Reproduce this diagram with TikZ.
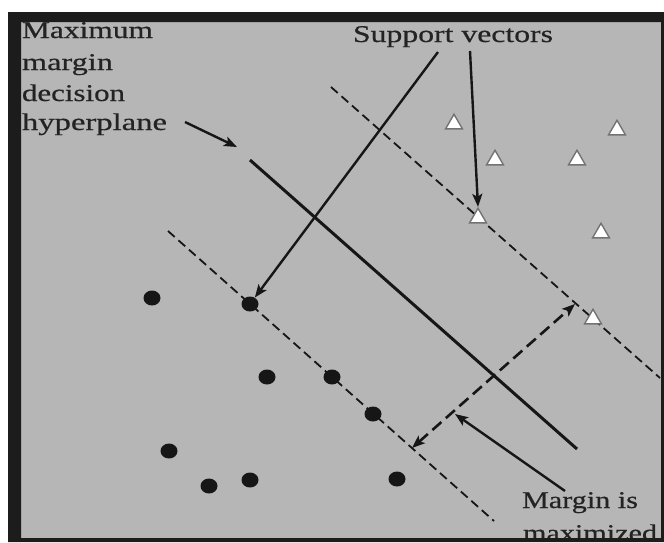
\documentclass[tikz,border=0pt]{standalone}
\usepackage{graphicx}
\usepackage{fontspec}
\newfontfamily\labelfont{Liberation Serif}[FakeBold=0.5]
\usetikzlibrary{shapes.geometric,arrows.meta}
\definecolor{bgray}{RGB}{182,182,182}
\definecolor{framec}{RGB}{28,28,28}
\definecolor{triedge}{RGB}{115,115,115}
\definecolor{ink}{RGB}{22,22,22}
\definecolor{textc}{RGB}{35,35,35}
\tikzset{mytip/.tip={Stealth[length=13pt,width=10pt,inset=3pt]}}
\begin{document}
\begin{tikzpicture}[x=1pt,y=-1pt,
  dot/.style={ellipse,fill=ink,minimum width=17pt,minimum height=15pt,inner sep=0pt},
  tri/.style={regular polygon,regular polygon sides=3,draw=triedge,line width=1.4pt,fill=white,minimum size=19.5pt,inner sep=0pt},
  lbl/.style={anchor=base west,inner sep=0pt,outer sep=0pt,text=textc,font=\labelfont\fontsize{24}{28}\selectfont},
  arr/.style={-mytip,line width=2.4pt,draw=ink},
  marginline/.style={line width=1.8pt,draw=ink,dash pattern=on 9pt off 5pt},
  plane/.style={line width=3pt,draw=ink}]
\useasboundingbox (0,0) rectangle (664,542);
\fill[white] (0,0) rectangle (664,542);
\fill[bgray] (21,22) rectangle (661,538);
% lines
\coordinate (hA) at (250,160);
\coordinate (hB) at (577,449);
\coordinate (uA) at (331,87);
\coordinate (uB) at (660,378);
\coordinate (lA) at (168,231);
\coordinate (lB) at (494,521);
\draw[plane] (hA) -- (hB);
\draw[marginline] (uA) -- (uB);
\draw[marginline] (lA) -- (lB);
% dots
\node[dot] (d1) at (152,298) {};
\node[dot] (d2) at (250,304) {};
\node[dot] (d3) at (267,377) {};
\node[dot] (d4) at (332,377) {};
\node[dot] (d5) at (373,414) {};
\node[dot] (d6) at (169,451) {};
\node[dot] (d7) at (209,486) {};
\node[dot] (d8) at (250,480) {};
\node[dot] (d9) at (397,479) {};
% triangles
\node[tri] (t1) at (454,124) {};
\node[tri] (t2) at (495,160) {};
\node[tri] (t3) at (617,130) {};
\node[tri] (t4) at (577,160) {};
\node[tri] (t5) at (478,218) {};
\node[tri] (t6) at (601,233) {};
\node[tri] (t7) at (593,319) {};
% labels
\node[lbl] (m1) at (22,38) {\resizebox{131pt}{\height}{Maximum}};
\node[lbl] (m2) at (22,70) {\resizebox{91pt}{\height}{margin}};
\node[lbl] (m3) at (22,101) {\resizebox{103pt}{\height}{decision}};
\node[lbl] (m4) at (22,130) {\resizebox{145pt}{\height}{hyperplane}};
\node[lbl] (sv) at (353,42) {\resizebox{200pt}{\height}{Support vectors}};
\node[lbl] (g1) at (522,508) {\resizebox{116pt}{\height}{Margin is}};
\node[lbl] (g2) at (523,541) {\resizebox{134pt}{\height}{maximized}};
% arrows
\coordinate (hpS) at (185,122);
\coordinate (hpE) at (237,147);
\draw[arr] (hpS) -- (hpE);
\coordinate (sv1) at (438,52);
\coordinate (sv2) at (470,51);
\draw[arr] (sv1) -- (d2);
\draw[arr] (sv2) -- (t5.north);
\coordinate (mLo) at (412,448);
\coordinate (mUp) at (575,304);
\draw[mytip-mytip,line width=2.6pt,draw=ink,dash pattern=on 12pt off 6pt] (mLo) -- (mUp);
\coordinate (gS) at (565,491);
\coordinate (gE) at (455,414);
\draw[arr] (gS) -- (gE);
% frame
\fill[framec,even odd rule] (8,12) rectangle (664,542) (21,22) rectangle (661,538);
\end{tikzpicture}
\end{document}
